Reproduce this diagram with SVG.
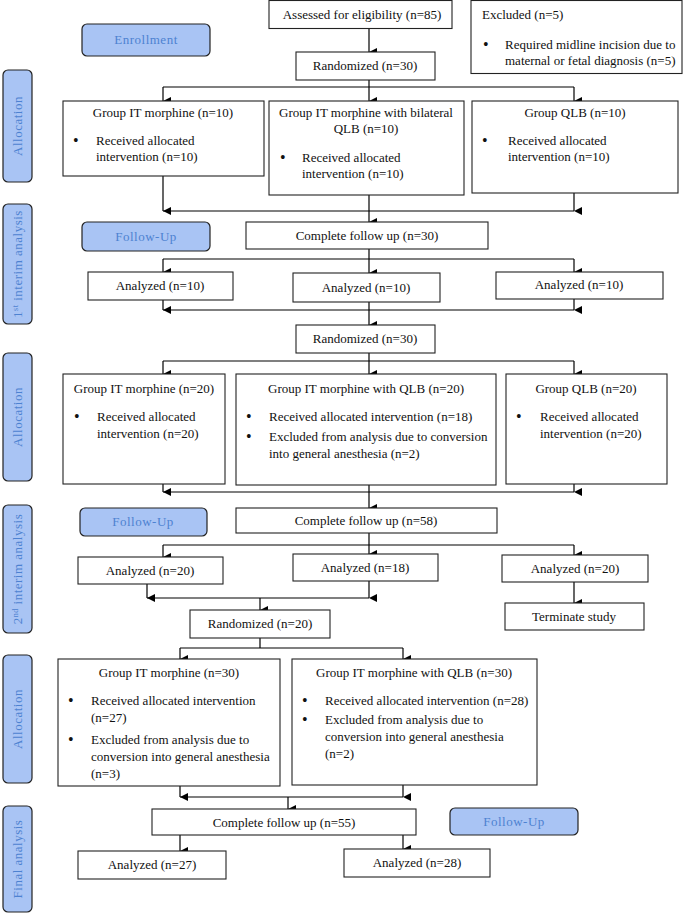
<svg xmlns="http://www.w3.org/2000/svg" width="685" height="914" viewBox="0 0 685 914">
<defs>
<marker id="ah" markerWidth="8" markerHeight="8" refX="4" refY="8" orient="auto" markerUnits="userSpaceOnUse" viewBox="0 0 8 8">
<path d="M0,0 L8,0 L4,8 Z" fill="#000"/>
</marker>
</defs>
<style>
.box{fill:#fff;stroke:#222;stroke-width:1.1}
.tag{fill:#a9c4f4;stroke:#222;stroke-width:1.2}
.t{font-family:"Liberation Serif","Times New Roman",serif;font-size:13px;fill:#111}
.c{text-anchor:middle}
.tt{font-family:"Liberation Serif","Times New Roman",serif;font-size:13px;fill:#4d82d1;text-anchor:middle;letter-spacing:0.5px}
.ln{fill:none;stroke:#000;stroke-width:1.2}
.ar{fill:none;stroke:#000;stroke-width:1.2;marker-end:url(#ah)}
.b{font-family:"Liberation Serif",serif;font-size:16px;fill:#111}
</style>

<!-- side bars -->
<g id="side-allocation1"><rect class="tag" x="3" y="70" width="29" height="112" rx="5"/><text class="tt" transform="translate(22,126) rotate(-90)">Allocation</text></g>
<g id="side-interim1"><rect class="tag" x="3" y="204" width="29" height="120" rx="5"/><text class="tt" transform="translate(22,264) rotate(-90)">1<tspan font-size="8" dy="-4">st</tspan><tspan dy="4"> interim analysis</tspan></text></g>
<g id="side-allocation2"><rect class="tag" x="3" y="353" width="29" height="128" rx="5"/><text class="tt" transform="translate(22,417) rotate(-90)">Allocation</text></g>
<g id="side-interim2"><rect class="tag" x="3" y="505" width="29" height="128" rx="5"/><text class="tt" transform="translate(22,569) rotate(-90)">2<tspan font-size="8" dy="-4">nd</tspan><tspan dy="4"> interim analysis</tspan></text></g>
<g id="side-allocation3"><rect class="tag" x="3" y="655" width="29" height="128" rx="5"/><text class="tt" transform="translate(22,719) rotate(-90)">Allocation</text></g>
<g id="side-final"><rect class="tag" x="3" y="806" width="29" height="106" rx="5"/><text class="tt" transform="translate(22,859) rotate(-90)">Final analysis</text></g>

<!-- stage tags -->
<g id="tag-enrollment"><rect class="tag" x="82" y="24" width="128" height="32" rx="5"/><text class="tt" x="146" y="44">Enrollment</text></g>
<g id="tag-followup1"><rect class="tag" x="82" y="222" width="128" height="29" rx="5"/><text class="tt" x="146" y="241">Follow-Up</text></g>
<g id="tag-followup2"><rect class="tag" x="80" y="508" width="127" height="28" rx="5"/><text class="tt" x="143" y="526">Follow-Up</text></g>
<g id="tag-followup3"><rect class="tag" x="450" y="808" width="128" height="27" rx="5"/><text class="tt" x="514" y="826">Follow-Up</text></g>

<!-- connectors -->
<g id="connectors">
<line class="ar" x1="369" y1="28" x2="369" y2="52"/>
<line class="ln" x1="369" y1="80" x2="369" y2="87"/>
<line class="ln" x1="163" y1="87" x2="574" y2="87"/>
<line class="ar" x1="163" y1="87" x2="163" y2="101"/>
<line class="ar" x1="369" y1="87" x2="369" y2="101"/>
<line class="ar" x1="574" y1="87" x2="574" y2="101"/>

<line class="ar" x1="163" y1="176" x2="163" y2="211"/>
<line class="ar" x1="574" y1="193" x2="574" y2="211"/>
<line class="ln" x1="163" y1="211" x2="574" y2="211"/>
<line class="ar" x1="369" y1="195" x2="369" y2="222"/>

<line class="ln" x1="369" y1="249" x2="369" y2="259"/>
<line class="ln" x1="163" y1="259" x2="574" y2="259"/>
<line class="ar" x1="163" y1="259" x2="163" y2="272"/>
<line class="ar" x1="369" y1="259" x2="369" y2="273"/>
<line class="ar" x1="574" y1="259" x2="574" y2="272"/>

<line class="ar" x1="163" y1="300" x2="163" y2="310"/>
<line class="ar" x1="574" y1="299" x2="574" y2="310"/>
<line class="ln" x1="163" y1="310" x2="574" y2="310"/>
<line class="ar" x1="369" y1="302" x2="369" y2="325"/>

<line class="ln" x1="369" y1="353" x2="369" y2="361"/>
<line class="ln" x1="163" y1="361" x2="574" y2="361"/>
<line class="ar" x1="163" y1="361" x2="163" y2="374"/>
<line class="ar" x1="369" y1="361" x2="369" y2="374"/>
<line class="ar" x1="574" y1="361" x2="574" y2="374"/>

<line class="ar" x1="163" y1="484" x2="163" y2="492"/>
<line class="ar" x1="574" y1="484" x2="574" y2="492"/>
<line class="ln" x1="163" y1="492" x2="574" y2="492"/>
<line class="ar" x1="369" y1="485" x2="369" y2="508"/>

<line class="ln" x1="369" y1="533" x2="369" y2="545"/>
<line class="ln" x1="163" y1="545" x2="574" y2="545"/>
<line class="ar" x1="163" y1="545" x2="163" y2="557"/>
<line class="ar" x1="369" y1="545" x2="369" y2="554"/>
<line class="ar" x1="574" y1="545" x2="574" y2="555"/>

<line class="ar" x1="574" y1="582" x2="574" y2="603"/>

<line class="ar" x1="147" y1="584" x2="147" y2="598"/>
<line class="ar" x1="369" y1="581" x2="369" y2="598"/>
<line class="ln" x1="147" y1="598" x2="369" y2="598"/>
<line class="ar" x1="260" y1="598" x2="260" y2="610"/>

<line class="ln" x1="260" y1="638" x2="260" y2="648"/>
<line class="ln" x1="180" y1="648" x2="403" y2="648"/>
<line class="ar" x1="180" y1="648" x2="180" y2="659"/>
<line class="ar" x1="403" y1="648" x2="403" y2="659"/>

<line class="ar" x1="180" y1="786" x2="180" y2="797"/>
<line class="ar" x1="403" y1="785" x2="403" y2="797"/>
<line class="ln" x1="180" y1="797" x2="403" y2="797"/>
<line class="ar" x1="288" y1="797" x2="288" y2="809"/>

<line class="ar" x1="180" y1="835" x2="180" y2="851"/>
<line class="ar" x1="403" y1="835" x2="403" y2="849"/>
</g>

<!-- nodes -->
<g id="assessed"><rect class="box" x="269" y="0.5" width="183" height="28"/><text class="t c" x="362" y="19">Assessed for eligibility (n=85)</text></g>
<g id="excluded"><rect class="box" x="471" y="0.5" width="211" height="73"/><text class="t" x="482" y="19">Excluded (n=5)</text><text class="b" x="483" y="50">•</text><text class="t" x="505" y="49">Required midline incision due to</text><text class="t" x="505" y="65">maternal or fetal diagnosis (n=5)</text></g>
<g id="randomized1"><rect class="box" x="296" y="52" width="139" height="28"/><text class="t c" x="365" y="70">Randomized (n=30)</text></g>

<g id="group-it-10"><rect class="box" x="63" y="101" width="201" height="75"/><text class="t c" x="163" y="117">Group IT morphine (n=10)</text><text class="b" x="73" y="146">•</text><text class="t" x="96" y="145">Received allocated</text><text class="t" x="96" y="161">intervention (n=10)</text></g>
<g id="group-itqlb-10"><rect class="box" x="269" y="101" width="195" height="94"/><text class="t c" x="366" y="117">Group IT morphine with bilateral</text><text class="t c" x="366" y="133">QLB (n=10)</text><text class="b" x="280" y="163">•</text><text class="t" x="302" y="162">Received allocated</text><text class="t" x="302" y="178">intervention (n=10)</text></g>
<g id="group-qlb-10"><rect class="box" x="472" y="101" width="206" height="92"/><text class="t c" x="575" y="117">Group QLB (n=10)</text><text class="b" x="482" y="146">•</text><text class="t" x="508" y="145">Received allocated</text><text class="t" x="508" y="161">intervention (n=10)</text></g>

<g id="followup30"><rect class="box" x="246" y="222" width="242" height="27"/><text class="t c" x="367" y="240">Complete follow up (n=30)</text></g>
<g id="analyzed10a"><rect class="box" x="88" y="272" width="145" height="28"/><text class="t c" x="160" y="290">Analyzed (n=10)</text></g>
<g id="analyzed10b"><rect class="box" x="293" y="273" width="147" height="29"/><text class="t c" x="366" y="292">Analyzed (n=10)</text></g>
<g id="analyzed10c"><rect class="box" x="496" y="272" width="167" height="27"/><text class="t c" x="579" y="289">Analyzed (n=10)</text></g>
<g id="randomized2"><rect class="box" x="296" y="325" width="139" height="28"/><text class="t c" x="365" y="343">Randomized (n=30)</text></g>

<g id="group-it-20"><rect class="box" x="63" y="374" width="162" height="110"/><text class="t c" x="144" y="393">Group IT morphine (n=20)</text><text class="b" x="74" y="422">•</text><text class="t" x="97" y="421">Received allocated</text><text class="t" x="97" y="438">intervention (n=20)</text></g>
<g id="group-itqlb-20"><rect class="box" x="236" y="374" width="260" height="111"/><text class="t c" x="366" y="393">Group IT morphine with QLB (n=20)</text><text class="b" x="246" y="422">•</text><text class="t" x="269" y="421">Received allocated intervention (n=18)</text><text class="b" x="246" y="442">•</text><text class="t" x="269" y="441">Excluded from analysis due to conversion</text><text class="t" x="269" y="458">into general anesthesia (n=2)</text></g>
<g id="group-qlb-20"><rect class="box" x="506" y="374" width="161" height="110"/><text class="t c" x="586" y="393">Group QLB (n=20)</text><text class="b" x="516" y="422">•</text><text class="t" x="540" y="421">Received allocated</text><text class="t" x="540" y="438">intervention (n=20)</text></g>

<g id="followup58"><rect class="box" x="236" y="508" width="261" height="25"/><text class="t c" x="366" y="525">Complete follow up (n=58)</text></g>
<g id="analyzed20a"><rect class="box" x="78" y="557" width="145" height="27"/><text class="t c" x="150" y="575">Analyzed (n=20)</text></g>
<g id="analyzed18"><rect class="box" x="293" y="554" width="145" height="27"/><text class="t c" x="365" y="572">Analyzed (n=18)</text></g>
<g id="analyzed20c"><rect class="box" x="502" y="555" width="146" height="27"/><text class="t c" x="575" y="573">Analyzed (n=20)</text></g>
<g id="terminate"><rect class="box" x="505" y="603" width="139" height="27"/><text class="t c" x="574" y="621">Terminate study</text></g>
<g id="randomized3"><rect class="box" x="190" y="610" width="140" height="28"/><text class="t c" x="260" y="628">Randomized (n=20)</text></g>

<g id="group-it-30"><rect class="box" x="58" y="659" width="222" height="127"/><text class="t c" x="169" y="677">Group IT morphine (n=30)</text><text class="b" x="68" y="706">•</text><text class="t" x="91" y="705">Received allocated intervention</text><text class="t" x="91" y="722">(n=27)</text><text class="b" x="68" y="745">•</text><text class="t" x="91" y="744">Excluded from analysis due to</text><text class="t" x="91" y="761">conversion into general anesthesia</text><text class="t" x="91" y="778">(n=3)</text></g>
<g id="group-itqlb-30"><rect class="box" x="292" y="659" width="245" height="126"/><text class="t c" x="414" y="677">Group IT morphine with QLB (n=30)</text><text class="b" x="302" y="706">•</text><text class="t" x="325" y="705">Received allocated intervention (n=28)</text><text class="b" x="302" y="725">•</text><text class="t" x="325" y="724">Excluded from analysis due to</text><text class="t" x="325" y="741">conversion into general anesthesia</text><text class="t" x="325" y="758">(n=2)</text></g>

<g id="followup55"><rect class="box" x="152" y="809" width="264" height="26"/><text class="t c" x="284" y="827">Complete follow up (n=55)</text></g>
<g id="analyzed27"><rect class="box" x="78" y="851" width="148" height="28"/><text class="t c" x="152" y="869">Analyzed (n=27)</text></g>
<g id="analyzed28"><rect class="box" x="344" y="849" width="146" height="28"/><text class="t c" x="417" y="867">Analyzed (n=28)</text></g>
</svg>
